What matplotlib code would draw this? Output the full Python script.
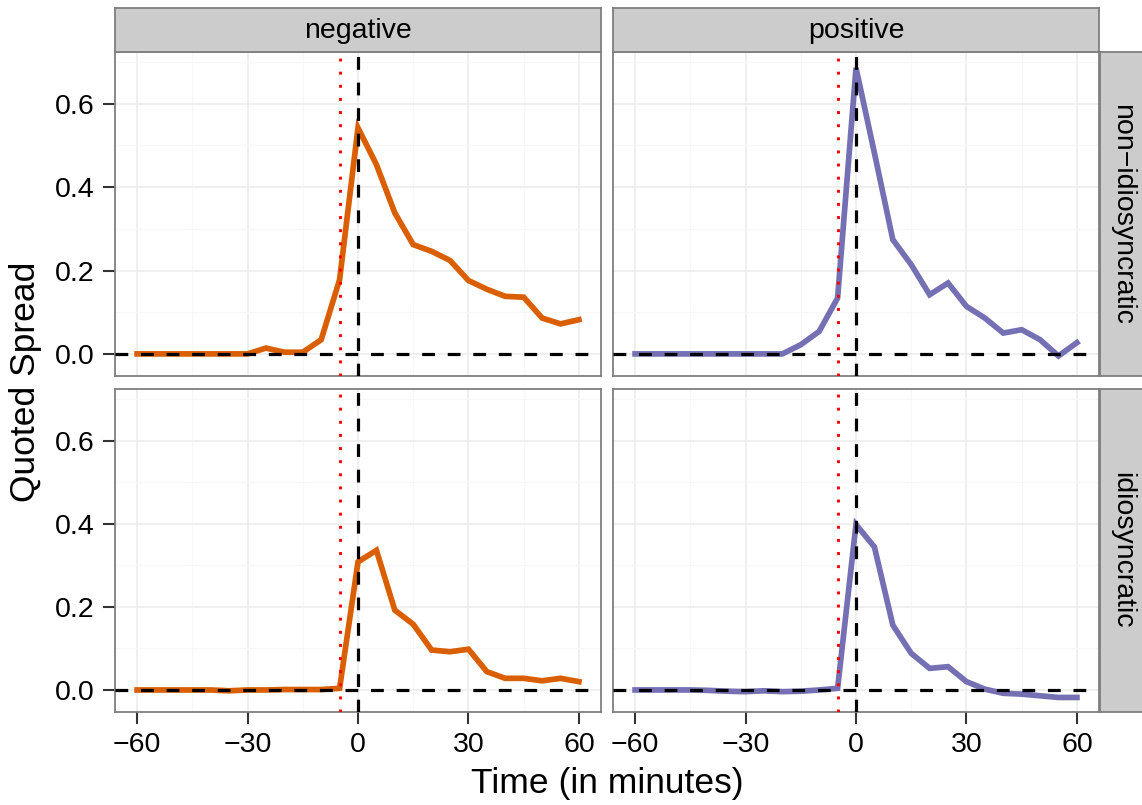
import matplotlib
matplotlib.use("Agg")
import matplotlib.pyplot as plt
from matplotlib.ticker import FixedLocator

plt.rcParams['font.family'] = ['Liberation Sans', 'DejaVu Sans']

minutes = [-60, -55, -50, -45, -40, -35, -30, -25, -20, -15, -10, -5, 0,
           5, 10, 15, 20, 25, 30, 35, 40, 45, 50, 55, 60]

neg_nonidio = [0.0, 0.0, 0.0, 0.0, 0.0, 0.0, 0.0, 0.014, 0.004, 0.004, 0.034, 0.178, 0.542,
               0.454, 0.338, 0.262, 0.246, 0.224, 0.176, 0.155, 0.138, 0.136, 0.086, 0.072, 0.082]
pos_nonidio = [0.0, 0.0, 0.0, 0.0, 0.0, 0.0, 0.0, 0.0, 0.0, 0.022, 0.054, 0.134, 0.686,
               0.482, 0.274, 0.214, 0.142, 0.170, 0.114, 0.086, 0.050, 0.058, 0.034, -0.005, 0.027]
neg_idio = [0.0, 0.0, 0.0, 0.0, 0.0, -0.002, 0.0, 0.0, 0.001, 0.001, 0.001, 0.004, 0.308,
            0.336, 0.192, 0.158, 0.096, 0.092, 0.098, 0.044, 0.028, 0.028, 0.022, 0.028, 0.020]
pos_idio = [0.0, 0.0, 0.0, 0.0, -0.001, -0.003, -0.004, -0.002, -0.004, -0.003, 0.0, 0.004, 0.398,
            0.344, 0.156, 0.088, 0.052, 0.056, 0.020, 0.002, -0.008, -0.010, -0.014, -0.018, -0.018]

col_labels = ["negative", "positive"]
row_labels = ["non\u2212idiosyncratic", "idiosyncratic"]
series = [[neg_nonidio, pos_nonidio], [neg_idio, pos_idio]]
colors = ["#D95F02", "#7570B3"]

x_ticks = [-60, -30, 0, 30, 60]
y_ticks = [0.0, 0.2, 0.4, 0.6]
event_line = 0
pre_line = -5

W, H = 1142, 805
fig = plt.figure(figsize=(W / 100, H / 100), dpi=100)

def rect(x0, y0, x1, y1):
    return [x0 / W, 1 - y1 / H, (x1 - x0) / W, (y1 - y0) / H]

col_x = [(115, 601), (613, 1099)]
row_y = [(52, 376), (389, 712)]
grey50 = "#7F7F7F"
fs = 20.5

for r in range(2):
    for c in range(2):
        x0, x1 = col_x[c]
        y0, y1 = row_y[r]
        ax = fig.add_axes(rect(x0, y0, x1, y1))
        ax.set_xlim(-66, 66)
        ax.set_ylim(-0.053, 0.724)
        ax.xaxis.set_major_locator(FixedLocator(x_ticks))
        ax.xaxis.set_minor_locator(FixedLocator([-45, -15, 15, 45]))
        ax.yaxis.set_major_locator(FixedLocator(y_ticks))
        ax.yaxis.set_minor_locator(FixedLocator([0.1, 0.3, 0.5, 0.7]))
        ax.grid(which='major', color='#EBEBEB', lw=1.1)
        ax.grid(which='minor', color='#F7F7F7', lw=0.8)
        ax.set_axisbelow(True)
        for s in ax.spines.values():
            s.set_color(grey50)
            s.set_linewidth(1.3)
        ax.plot(minutes, series[r][c], color=colors[c], lw=4.1, solid_joinstyle='miter', zorder=3)
        ax.axhline(0, color='black', lw=2.3, linestyle=(0, (4, 4)), zorder=4)
        ax.axvline(event_line, color='black', lw=2.3, linestyle=(0, (4, 4)), zorder=4)
        ax.axvline(pre_line, color='#FF0000', lw=2.1, linestyle=(0, (1, 3.5)), zorder=4)
        ax.tick_params(which='minor', length=0)
        ax.tick_params(which='major', length=8.5, width=1.5, color='#333333',
                       labelsize=fs, pad=6, labelcolor='black')
        if c == 0:
            ax.set_yticklabels([f"{v:.1f}" for v in y_ticks])
        else:
            ax.tick_params(axis='y', length=0, labelleft=False)
        if r == 1:
            ax.set_xticklabels([str(v).replace('-', '\u2212') for v in x_ticks])
        else:
            ax.tick_params(axis='x', length=0, labelbottom=False)

# top strips
for c in range(2):
    x0, x1 = col_x[c]
    sax = fig.add_axes(rect(x0, 8, x1, 52))
    sax.set_facecolor('#CCCCCC')
    sax.set_xticks([]); sax.set_yticks([])
    for s in sax.spines.values():
        s.set_color(grey50); s.set_linewidth(1.3)
    sax.text(0.5, 0.48, col_labels[c], ha='center', va='center', fontsize=fs,
             transform=sax.transAxes)

# right strips
for r in range(2):
    y0, y1 = row_y[r]
    sax = fig.add_axes(rect(1100, y0, 1143, y1))
    sax.set_facecolor('#CCCCCC')
    sax.set_xticks([]); sax.set_yticks([])
    for s in sax.spines.values():
        s.set_color(grey50); s.set_linewidth(1.3)
    sax.text(0.52, 0.5, row_labels[r], ha='center', va='center', fontsize=fs,
             rotation=-90, transform=sax.transAxes)

fig.text(607 / W, 1 - 783 / H, "Time (in minutes)", ha='center', va='center', fontsize=25.5)
fig.text(26 / W, 1 - 382 / H, "Quoted Spread", ha='center', va='center', fontsize=25.5,
         rotation=90)

fig.savefig("out.png", dpi=100, facecolor='white')
